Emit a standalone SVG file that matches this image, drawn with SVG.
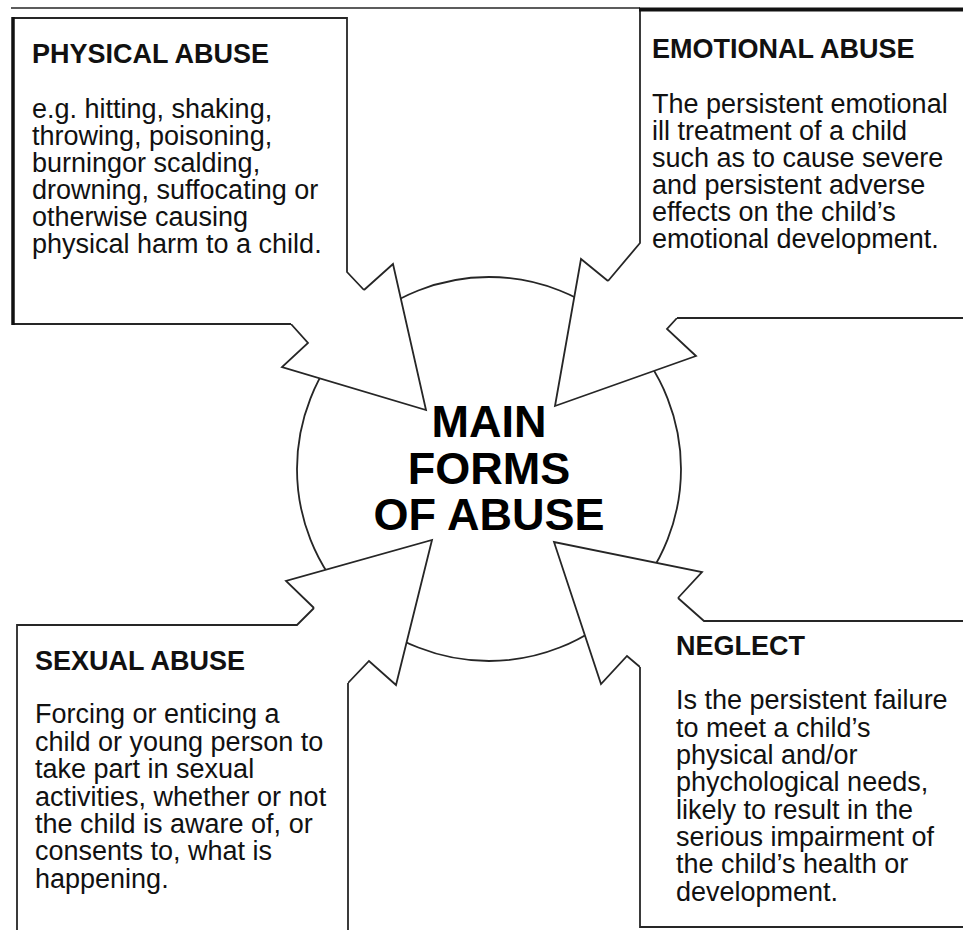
<svg xmlns="http://www.w3.org/2000/svg" width="963" height="930" viewBox="0 0 963 930">
  <style>
    .edge { fill: #ffffff; stroke: #262626; stroke-width: 1.8; stroke-linejoin: miter; }
    .arrow { fill: #ffffff; stroke: #262626; stroke-width: 1.8; stroke-linejoin: miter; }
    .hub { fill: #ffffff; stroke: #262626; stroke-width: 1.8; }
    .head { font-family: "Liberation Sans", Arial, sans-serif; font-weight: bold; font-size: 27px; fill: #111; }
    .body { font-family: "Liberation Sans", Arial, sans-serif; font-size: 27px; fill: #111; }
    .title { font-family: "Liberation Sans", Arial, sans-serif; font-weight: bold; font-size: 45px; fill: #000; text-anchor: middle; }
  </style>

  <rect x="0" y="0" width="963" height="930" fill="#ffffff"/>

  <!-- central hub -->
  <g id="main-forms">
    <circle class="hub" cx="489" cy="469" r="192"/>
  </g>

  <!-- pointers from each category into the hub -->
  <g id="connectors">
    <path class="arrow" d="M364,290 L393,264 L426,410 L282,367 L308,343 L291,324"/>
    <path class="arrow" d="M608,281 L581,259 L555,406 L696,356 L667,329 L677,318"/>
    <path class="arrow" d="M314,608 L286,581 L432,540 L396,685 L369,661 L348,683"/>
    <path class="arrow" d="M678,598 L702,572 L554,542 L601,684 L627,656 L640,667"/>
  </g>

  <g id="main-forms-label">
    <text class="title" x="489" y="437">MAIN</text>
    <text class="title" x="489" y="484">FORMS</text>
    <text class="title" x="489" y="530">OF ABUSE</text>
  </g>

  <!-- top-left: physical abuse -->
  <g id="physical-abuse">
    <path class="edge" d="M291,324 H13 V18 H347 V272 L364,290"/>
    <line x1="13" y1="17" x2="13" y2="325" stroke="#111" stroke-width="3.5"/>
    <text class="head" x="32" y="63">PHYSICAL ABUSE</text>
    <text class="body" x="32" y="118">e.g. hitting, shaking,</text>
    <text class="body" x="32" y="145.3">throwing, poisoning,</text>
    <text class="body" x="32" y="172.3">burningor scalding,</text>
    <text class="body" x="32" y="199">drowning, suffocating or</text>
    <text class="body" x="32" y="226">otherwise causing</text>
    <text class="body" x="32" y="253.3">physical harm to a child.</text>
  </g>

  <!-- top-right: emotional abuse -->
  <g id="emotional-abuse">
    <path class="edge" d="M677,318 H966 V9 H640 V243 L608,281"/>
    <text class="head" x="652" y="58">EMOTIONAL ABUSE</text>
    <text class="body" x="652" y="113.3">The persistent emotional</text>
    <text class="body" x="652" y="140.3">ill treatment of a child</text>
    <text class="body" x="652" y="167">such as to cause severe</text>
    <text class="body" x="652" y="193.7">and persistent adverse</text>
    <text class="body" x="652" y="220.7">effects on the child’s</text>
    <text class="body" x="652" y="248">emotional development.</text>
  </g>

  <!-- bottom-left: sexual abuse -->
  <g id="sexual-abuse">
    <path class="edge" d="M348,683 V934 H17 V625 H297 L314,608"/>
    <text class="head" x="35" y="670">SEXUAL ABUSE</text>
    <text class="body" x="35" y="723.3">Forcing or enticing a</text>
    <text class="body" x="35" y="751">child or young person to</text>
    <text class="body" x="35" y="778.3">take part in sexual</text>
    <text class="body" x="35" y="805.7">activities, whether or not</text>
    <text class="body" x="35" y="833">the child is aware of, or</text>
    <text class="body" x="35" y="860.3">consents to, what is</text>
    <text class="body" x="35" y="887.5">happening.</text>
  </g>

  <!-- bottom-right: neglect -->
  <g id="neglect">
    <path class="edge" d="M640,667 V927 H966 V621 H704 L678,598"/>
    <text class="head" x="676" y="655">NEGLECT</text>
    <text class="body" x="676" y="709.3">Is the persistent failure</text>
    <text class="body" x="676" y="736.6">to meet a child’s</text>
    <text class="body" x="676" y="764">physical and/or</text>
    <text class="body" x="676" y="791.3">phychological needs,</text>
    <text class="body" x="676" y="818.6">likely to result in the</text>
    <text class="body" x="676" y="846">serious impairment of</text>
    <text class="body" x="676" y="873.3">the child’s health or</text>
    <text class="body" x="676" y="900.6">development.</text>
  </g>

  <!-- rule along the top of the page, heavier over the right-hand box -->
  <line x1="11" y1="8" x2="640" y2="8" stroke="#262626" stroke-width="1.6"/>
  <line x1="639" y1="9.5" x2="963" y2="9.5" stroke="#111" stroke-width="4"/>
</svg>
